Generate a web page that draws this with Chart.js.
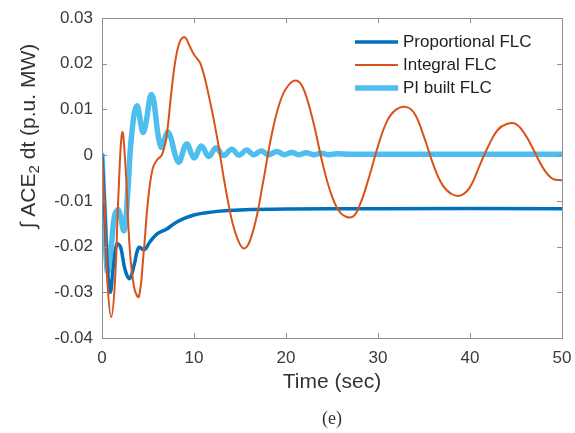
<!DOCTYPE html>
<html>
<head>
<meta charset="utf-8">
<script src="https://cdn.jsdelivr.net/npm/chart.js@4.4.1/dist/chart.umd.min.js"></script>
<style>
    body { margin: 0; background: #fff; }
    #wrap { width: 575px; height: 433px; }
</style>
</head>
<body>
<div id="wrap"><canvas id="ace-chart" width="575" height="433"></canvas></div>
<script>
// Values (time in sec, integral of ACE2 in p.u. MW)
const seriesNames = ['Proportional FLC', 'Integral FLC', 'PI built FLC'];

const timeProp = [0, 0.3, 0.6, 0.9, 1.2, 1.6, 2.0, 2.5, 3.0, 3.5, 4.0, 4.6, 5.2, 6.0, 7.0, 8.0, 9.0, 10.0, 11.0, 12.5, 15, 20, 30, 50];
const valProp = [0, -0.012, -0.025, -0.030, -0.025, -0.0195, -0.020, -0.025, -0.027, -0.024, -0.0202, -0.0207, -0.019, -0.0172, -0.0162, -0.0148, -0.0138, -0.0131, -0.0127, -0.0123, -0.0120, -0.0118, -0.0117, -0.0117];

const timeInt = [0, 0.3, 0.6, 1.0, 1.4, 1.8, 2.2, 2.6, 3.0, 3.5, 4.0, 4.5, 5.0, 5.5, 6.0, 6.5, 7.0, 7.5, 8.0, 8.5, 9.0, 9.5, 10.0, 10.7, 11.5, 12.5, 13.5, 14.5, 15.5, 16.5, 17.5, 18.5, 19.5, 20.5, 21.3, 22, 23, 24, 25, 26, 27.2, 28, 29, 30, 31, 32, 33.1, 34, 35, 36, 37, 38, 39, 40, 41, 42, 43, 44, 45, 46, 47, 48, 49, 50];
const valInt = [0, -0.012, -0.028, -0.0354, -0.028, -0.008, 0.005, -0.004, -0.020, -0.029, -0.031, -0.022, -0.010, -0.003, -0.001, 0.000, 0.004, 0.013, 0.021, 0.025, 0.0258, 0.024, 0.022, 0.020, 0.014, 0.004, -0.008, -0.017, -0.0204, -0.016, -0.006, 0.005, 0.0125, 0.0158, 0.0162, 0.014, 0.007, -0.002, -0.009, -0.0128, -0.0135, -0.011, -0.005, 0.002, 0.0075, 0.010, 0.0105, 0.009, 0.004, -0.002, -0.0065, -0.0085, -0.0088, -0.007, -0.0025, 0.002, 0.0055, 0.0068, 0.0068, 0.0045, 0.0008, -0.003, -0.0052, -0.0055];

const timePI = [0, 0.3, 0.6, 1.0, 1.4, 1.8, 2.4, 2.8, 3.2, 3.8, 4.5, 5.4, 6.4, 7.2, 8.3, 9.2, 10.0, 10.8, 11.6, 12.4, 13.2, 14.1, 14.9, 15.7, 16.5, 17.3, 18.1, 19.0, 19.8, 20.6, 21.4, 22.2, 23.0, 23.8, 24.6, 25.5, 27, 50];
const valPI = [0, -0.015, -0.0255, -0.020, -0.013, -0.012, -0.0165, -0.008, 0.004, 0.0108, 0.005, 0.0132, 0.0018, 0.005, -0.0015, 0.0024, -0.0006, 0.0020, -0.0003, 0.0016, -0.0001, 0.0013, 0.0000, 0.0011, 0.0001, 0.0009, 0.0001, 0.0008, 0.0001, 0.0006, 0.0001, 0.0005, 0.0001, 0.0004, 0.0001, 0.0003, 0.0002, 0.0002];

const xTicks = [0, 10, 20, 30, 40, 50];
const yTicks = [-0.04, -0.03, -0.02, -0.01, 0, 0.01, 0.02, 0.03];

function toPoints(ts, vs) {
    return ts.map((t, i) => ({ x: t, y: vs[i] }));
}

// box around the axes with inward tick marks, MATLAB style
const axesBox = {
    id: 'axesBox',
    afterDatasetsDraw(chart) {
        const { ctx, chartArea: a, scales } = chart;
        ctx.save();
        ctx.strokeStyle = '#8f8f8f';
        ctx.lineWidth = 1;
        ctx.strokeRect(a.left + 0.5, a.top + 0.5, a.right - a.left, a.bottom - a.top);
        ctx.beginPath();
        xTicks.forEach(t => {
            const px = Math.round(scales.x.getPixelForValue(t)) + 0.5;
            ctx.moveTo(px, a.bottom); ctx.lineTo(px, a.bottom - 5);
            ctx.moveTo(px, a.top); ctx.lineTo(px, a.top + 5);
        });
        yTicks.forEach(v => {
            const py = Math.round(scales.y.getPixelForValue(v)) + 0.5;
            ctx.moveTo(a.left, py); ctx.lineTo(a.left + 5, py);
            ctx.moveTo(a.right, py); ctx.lineTo(a.right - 5, py);
        });
        ctx.stroke();
        ctx.restore();
    }
};

// legend inside the top right corner, and the axis titles
const labels = {
    id: 'labels',
    afterDraw(chart) {
        const { ctx, chartArea: a } = chart;
        ctx.save();

        // legend
        ctx.font = '17px "Liberation Sans", Arial, sans-serif';
        ctx.textBaseline = 'middle';
        ctx.textAlign = 'left';
        seriesNames.forEach((name, i) => {
            const ds = chart.data.datasets[i];
            const y = a.top + 24 + i * 23;
            const x0 = a.right - 207;
            ctx.strokeStyle = ds.borderColor;
            ctx.lineWidth = ds.borderWidth;
            ctx.beginPath();
            ctx.moveTo(x0, y); ctx.lineTo(x0 + 43, y);
            ctx.stroke();
            ctx.fillStyle = '#222';
            ctx.fillText(name, x0 + 48, y);
        });

        // x title
        ctx.fillStyle = '#333';
        ctx.textAlign = 'center';
        ctx.font = '21px "Liberation Sans", Arial, sans-serif';
        ctx.fillText('Time (sec)', (a.left + a.right) / 2, 382);

        // figure caption
        ctx.font = '18px "Liberation Serif", "Times New Roman", serif';
        ctx.fillText('(e)', (a.left + a.right) / 2, 419);

        // y title with subscript
        const big = '21px "Liberation Sans", Arial, sans-serif';
        const small = '15px "Liberation Sans", Arial, sans-serif';
        const parts = [['\u222B ACE', big, 0], ['2', small, 6], [' dt (p.u. MW)', big, 0]];
        let total = 0;
        parts.forEach(p => { ctx.font = p[1]; total += ctx.measureText(p[0]).width; });
        ctx.translate(29, a.top + 118);
        ctx.rotate(-Math.PI / 2);
        ctx.textAlign = 'left';
        let x = -total / 2;
        parts.forEach(p => {
            ctx.font = p[1];
            ctx.fillText(p[0], x, p[2]);
            x += ctx.measureText(p[0]).width;
        });
        ctx.restore();
    }
};

const ctx = document.getElementById('ace-chart').getContext('2d');
const aceChart = new Chart(ctx, {
    type: 'line',
    data: {
        datasets: [{
            label: seriesNames[0],
            data: toPoints(timeProp, valProp),
            borderColor: '#0072BD',
            borderWidth: 3.5,
            order: 1
        }, {
            label: seriesNames[1],
            data: toPoints(timeInt, valInt),
            borderColor: '#D95319',
            borderWidth: 2,
            order: 0
        }, {
            label: seriesNames[2],
            data: toPoints(timePI, valPI),
            borderColor: '#4DBEEE',
            borderWidth: 5.5,
            order: 2
        }]
    },
    options: {
        responsive: false,
        animation: false,
        elements: {
            point: { radius: 0 },
            line: { fill: false, tension: 0.4, borderCapStyle: 'round', borderJoinStyle: 'round' }
        },
        layout: { padding: { top: 18, right: 13, left: 0, bottom: 0 } },
        scales: {
            x: {
                type: 'linear',
                min: 0,
                max: 50,
                grid: { display: false, drawTicks: false },
                border: { display: false },
                afterFit: scale => {
                    scale.height = 95;
                    scale.paddingLeft = 0;
                    scale.paddingRight = 0;
                },
                afterBuildTicks: scale => { scale.ticks = xTicks.map(v => ({ value: v })); },
                ticks: {
                    padding: 10,
                    color: '#3a3a3a',
                    font: { family: '"Liberation Sans", Arial, sans-serif', size: 17 }
                }
            },
            y: {
                min: -0.04,
                max: 0.03,
                grid: { display: false, drawTicks: false },
                border: { display: false },
                afterFit: scale => {
                    scale.width = 102;
                    scale.paddingTop = 0;
                    scale.paddingBottom = 0;
                },
                afterBuildTicks: scale => { scale.ticks = yTicks.map(v => ({ value: v })); },
                ticks: {
                    padding: 9,
                    color: '#3a3a3a',
                    font: { family: '"Liberation Sans", Arial, sans-serif', size: 17 },
                    callback: v => String(Math.round(v * 100) / 100)
                }
            }
        },
        plugins: {
            legend: { display: false },
            tooltip: { enabled: false }
        }
    },
    plugins: [axesBox, labels]
});
</script>
</body>
</html>
